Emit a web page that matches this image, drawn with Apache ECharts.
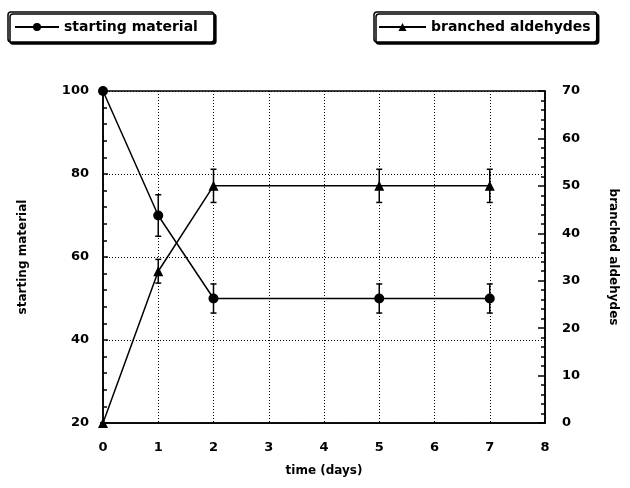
<!DOCTYPE html>
<html><head><meta charset="utf-8">
<script src="https://cdn.jsdelivr.net/npm/echarts@6/dist/echarts.min.js"></script>
<style>html,body{margin:0;padding:0;background:#fff}#c{width:630px;height:488px}</style>
</head><body><div id="c"></div>
<script>
const days = [0, 1, 2, 5, 7];
const startingMaterial = [100, 70, 50, 50, 50];
const startingMaterialErr = [0, 5, 3.5, 3.5, 3.5];
const branchedAldehydes = [0, 32, 50, 50, 50];
const branchedAldehydesErr = [0, 2.5, 3.5, 3.5, 3.5];
const xTicks = [0, 1, 2, 3, 4, 5, 6, 7, 8];
const leftTicks = [20, 40, 60, 80, 100];
const rightTicks = [0, 10, 20, 30, 40, 50, 60, 70];

const FONT = '"DejaVu Sans", sans-serif';
const lbl = {color: '#000', fontFamily: FONT, fontWeight: 'bold', fontSize: 13};
const nm = {color: '#000', fontFamily: FONT, fontWeight: 'bold', fontSize: 12};

function errSeries(vals, errs, axisIdx) {
  return {
    type: 'custom', yAxisIndex: axisIdx, z: 3, silent: true,
    data: days.map((d, i) => [d, vals[i] - errs[i], vals[i] + errs[i]]),
    renderItem: function (params, api) {
      const lo = api.coord([api.value(0), api.value(1)]);
      const hi = api.coord([api.value(0), api.value(2)]);
      const w = 3;
      const st = {stroke: '#000', lineWidth: 1.5};
      return {type: 'group', children: [
        {type: 'line', shape: {x1: lo[0], y1: lo[1], x2: hi[0], y2: hi[1]}, style: st},
        {type: 'line', shape: {x1: lo[0] - w, y1: lo[1], x2: lo[0] + w, y2: lo[1]}, style: st},
        {type: 'line', shape: {x1: hi[0] - w, y1: hi[1], x2: hi[0] + w, y2: hi[1]}, style: st}
      ]};
    }
  };
}

const chart = echarts.init(document.getElementById('c'), null, {renderer: 'canvas'});
const legendBase = {
  orient: 'horizontal', itemHeight: 10, itemGap: 0,
  textStyle: {color: '#000', fontFamily: FONT, fontWeight: 'bold', fontSize: 14},
  borderColor: '#000', borderWidth: 1.5, borderRadius: 3,
  backgroundColor: '#fff', shadowColor: '#000', shadowOffsetX: 2, shadowOffsetY: 2, shadowBlur: 0,
  selectedMode: false
};
chart.setOption({
  animation: false,
  backgroundColor: '#fff',
  legend: [
    Object.assign({}, legendBase, {left: 8, top: 12, itemWidth: 44, padding: [8, 16, 8, 6], data: ['starting material']}),
    Object.assign({}, legendBase, {left: 374, top: 12, itemWidth: 47, padding: [8, 6, 8, 4], data: ['branched aldehydes']})
  ],
  grid: {left: 103, right: 85, top: 91, bottom: 65, show: true, borderColor: '#000', borderWidth: 1.5},
  xAxis: {
    type: 'value', min: xTicks[0], max: xTicks[xTicks.length - 1], interval: 1,
    name: 'time (days)', nameLocation: 'middle', nameGap: 42, nameTextStyle: nm,
    axisLine: {show: true, lineStyle: {color: '#000', width: 1.5}},
    axisTick: {show: false},
    axisLabel: Object.assign({margin: 18}, lbl),
    splitLine: {show: true, lineStyle: {color: '#000', type: [1, 2], width: 1}}
  },
  yAxis: [
    {
      type: 'value', min: leftTicks[0], max: leftTicks[leftTicks.length - 1], interval: 20,
      name: 'starting material', nameLocation: 'middle', nameGap: 74, nameRotate: 90, nameTextStyle: nm,
      axisLine: {show: true, lineStyle: {color: '#000', width: 1.5}},
      axisTick: {show: true, inside: true, length: 5, lineStyle: {color: '#000', width: 1.5}},
      minorTick: {show: true, splitNumber: 5, length: 4, lineStyle: {color: '#000', width: 1.5}},
      axisLabel: Object.assign({margin: 14}, lbl),
      splitLine: {show: true, lineStyle: {color: '#000', type: [1, 2], width: 1}}
    },
    {
      type: 'value', min: rightTicks[0], max: rightTicks[rightTicks.length - 1], interval: 10,
      position: 'right',
      name: 'branched aldehydes', nameLocation: 'middle', nameGap: 62, nameRotate: -90, nameTextStyle: nm,
      axisLine: {show: true, lineStyle: {color: '#000', width: 1.5}},
      axisTick: {show: true, inside: true, length: 7, lineStyle: {color: '#000', width: 1.5}},
      minorTick: {show: true, splitNumber: 5, length: 4, lineStyle: {color: '#000', width: 1.5}},
      axisLabel: Object.assign({margin: 17}, lbl),
      splitLine: {show: false}
    }
  ],
  series: [
    {
      name: 'starting material', type: 'line', yAxisIndex: 0, z: 4,
      data: days.map((d, i) => [d, startingMaterial[i]]),
      symbol: 'circle', symbolSize: 10,
      lineStyle: {color: '#000', width: 1.5}, itemStyle: {color: '#000'}
    },
    {
      name: 'branched aldehydes', type: 'line', yAxisIndex: 1, z: 4,
      data: days.map((d, i) => [d, branchedAldehydes[i]]),
      symbol: 'triangle', symbolSize: 10,
      lineStyle: {color: '#000', width: 1.5}, itemStyle: {color: '#000'}
    },
    errSeries(startingMaterial, startingMaterialErr, 0),
    errSeries(branchedAldehydes, branchedAldehydesErr, 1)
  ]
});
</script></body></html>
